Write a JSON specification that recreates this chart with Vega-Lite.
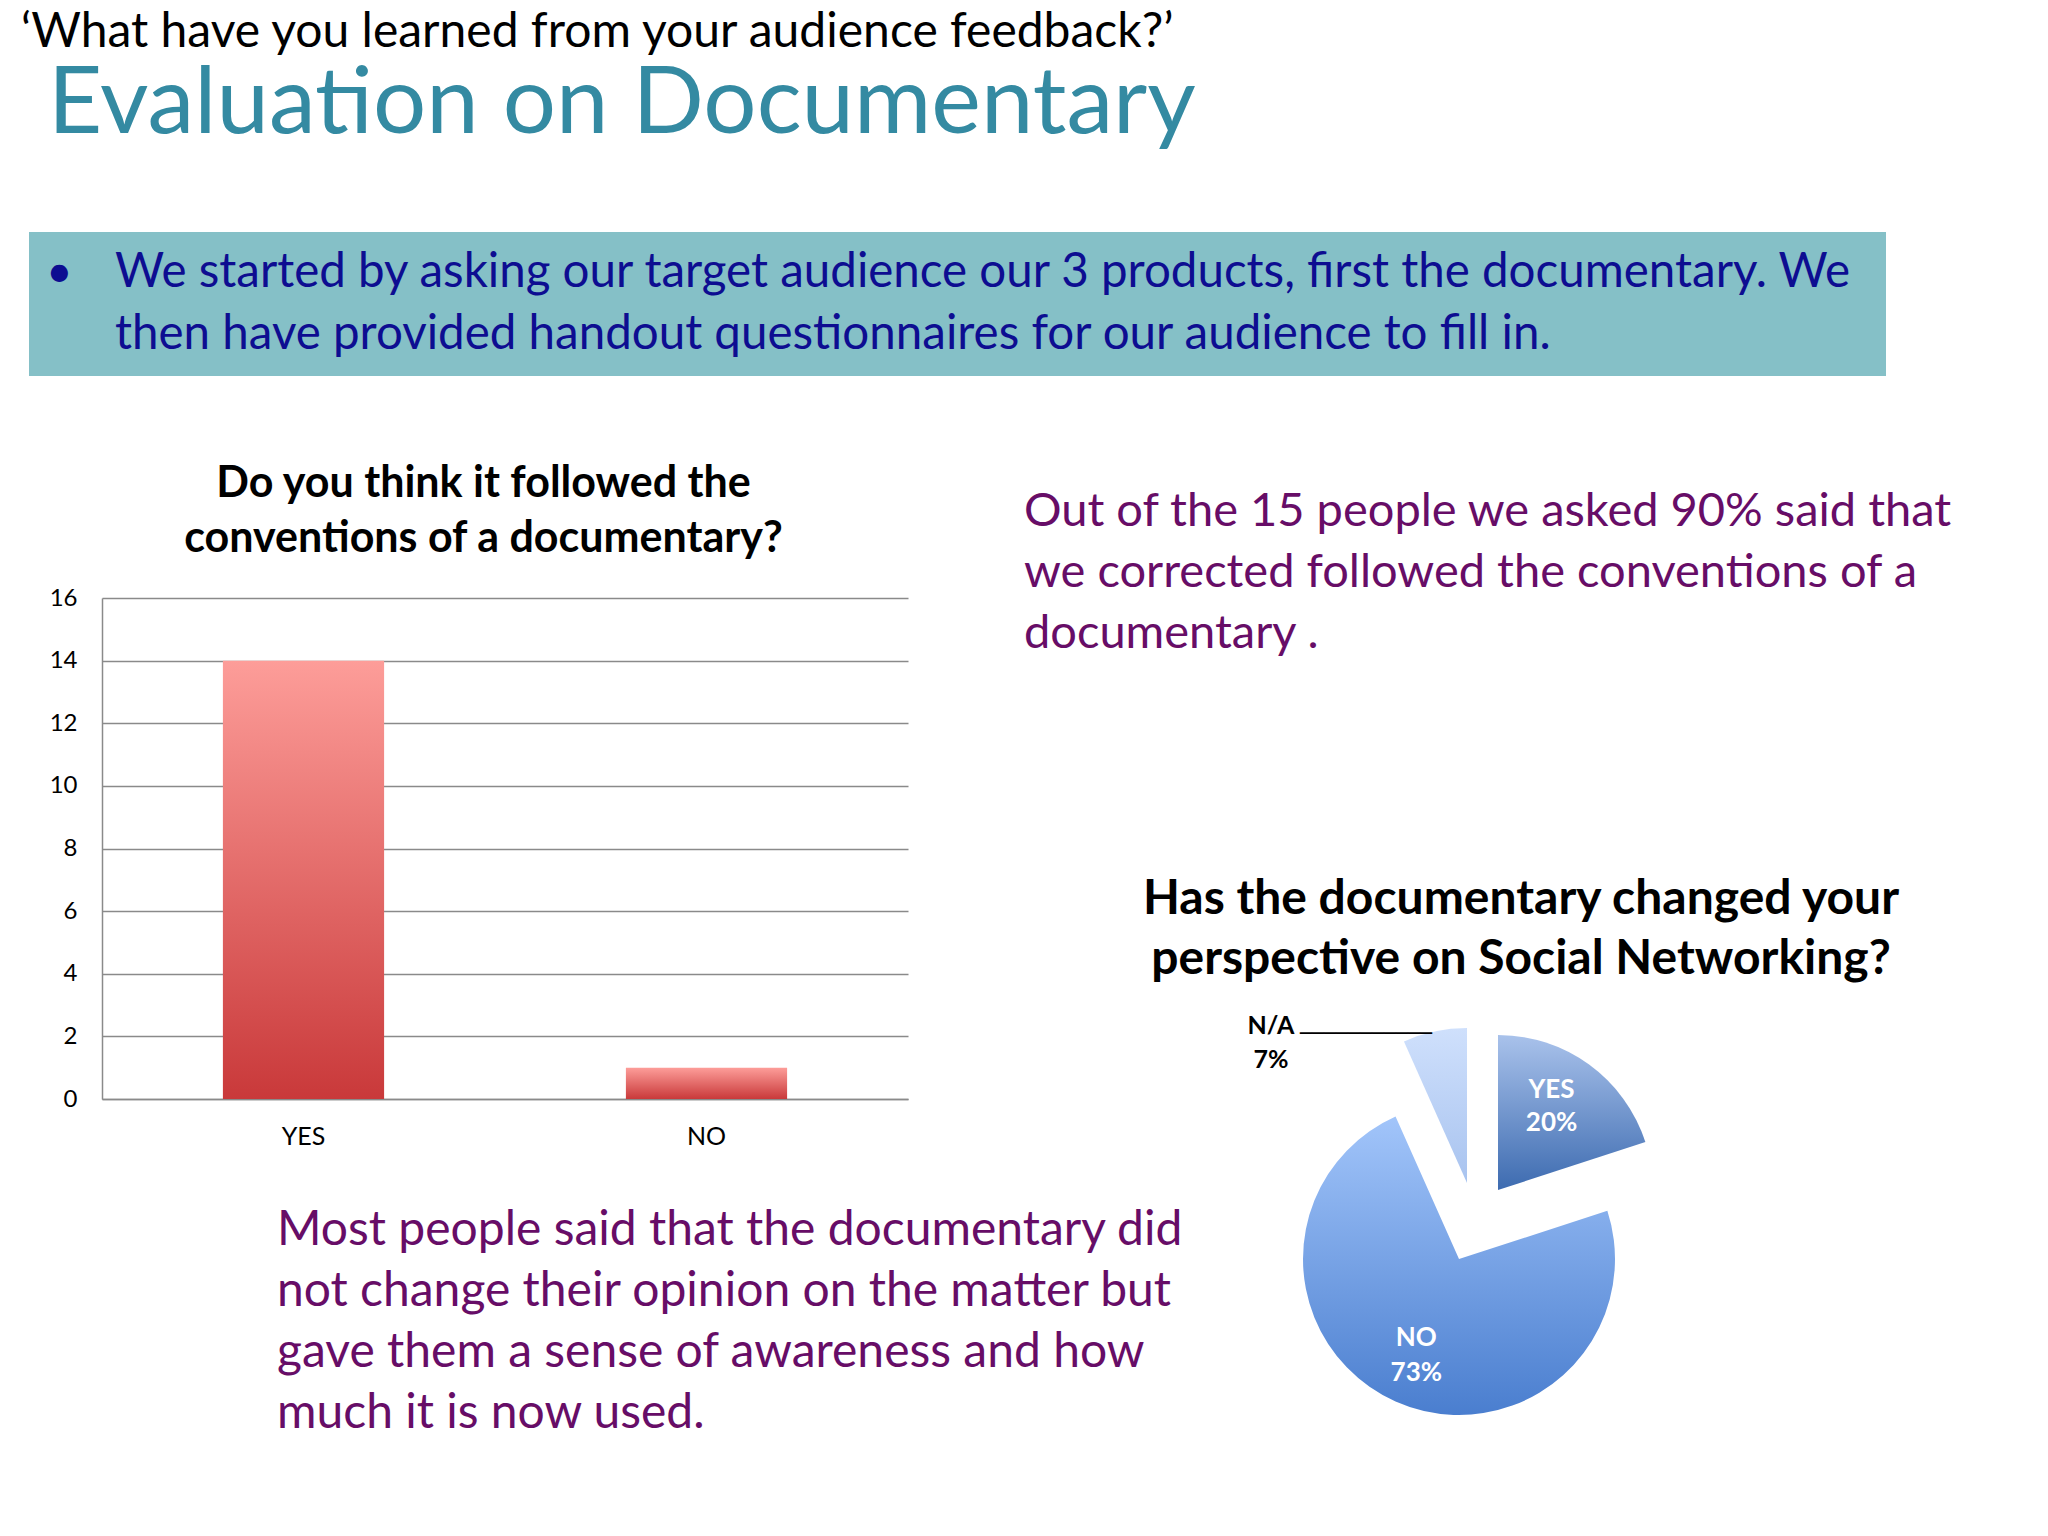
{
  "$schema": "https://vega.github.io/schema/vega-lite/v6.json",
  "background": "#ffffff",
  "padding": {"left": 21, "top": 9, "right": 0, "bottom": 0},
  "config": {"font": "Lato", "view": {"stroke": null}},
  "title": {
    "text": "‘What have you learned from your audience feedback?’",
    "anchor": "start", "dx": -8, "offset": 1,
    "fontSize": 48, "fontWeight": "normal", "color": "#000000"
  },
  "columns": 1,
  "align": "none",
  "spacing": 87,
  "concat": [
    {
      "width": 1857,
      "height": 144,
      "view": {"fill": "#85c0c7", "stroke": null},
      "title": {
        "text": "Evaluation on Documentary",
        "anchor": "start", "frame": "group", "dx": 19, "offset": 79,
        "fontSize": 94, "fontWeight": "normal", "color": "#348aa2"
      },
      "data": {"values": [
        {"lines": ["We started by asking our target audience our 3 products, first the documentary. We", "then have provided handout questionnaires for our audience to fill in."]}
      ]},
      "layer": [
        {
          "mark": {"type": "text", "text": "•", "align": "left", "baseline": "middle", "fontSize": 46, "color": "#0d0d91", "dx": 17, "dy": -31},
          "encoding": {"x": {"datum": 0, "type": "quantitative", "scale": {"domain": [0, 1]}, "axis": null}}
        },
        {
          "mark": {"type": "text", "align": "left", "baseline": "middle", "fontSize": 47.5, "color": "#0d0d91", "dx": 86, "dy": -31, "lineHeight": 62},
          "encoding": {
            "x": {"datum": 0, "type": "quantitative", "scale": {"domain": [0, 1]}, "axis": null},
            "text": {"field": "lines"}
          }
        }
      ]
    },
    {
      "bounds": "flush",
      "spacing": 20,
      "hconcat": [
        {
          "width": 879,
          "height": 501,
          "title": {
            "text": ["Do you think it followed the", "conventions of a documentary?"],
            "anchor": "middle", "frame": "group", "dx": 15, "offset": 25,
            "fontSize": 43, "fontWeight": "bold", "color": "#000000", "lineHeight": 55
          },
          "layer": [
            {
              "data": {"values": [
                {"answer": "YES", "count": 14},
                {"answer": "NO", "count": 1}
              ]},
              "mark": {
                "type": "bar",
                "color": {"gradient": "linear", "x1": 0, "y1": 0, "x2": 0, "y2": 1,
                  "stops": [{"offset": 0, "color": "#fd9d99"}, {"offset": 1, "color": "#c9393a"}]}
              },
              "encoding": {
                "x": {
                  "field": "answer", "type": "nominal", "sort": ["YES", "NO"],
                  "scale": {"range": [73, 879], "paddingInner": 0.6, "paddingOuter": 0.3},
                  "axis": {"title": null, "labelAngle": 0, "labelFontSize": 25, "labelColor": "#000000", "ticks": false, "domainColor": "#8a8a8a", "domainWidth": 1.5, "labelPadding": 25, "grid": false}
                },
                "y": {
                  "field": "count", "type": "quantitative",
                  "scale": {"domain": [0, 16], "nice": false},
                  "axis": {"title": null, "offset": -73, "values": [0, 2, 4, 6, 8, 10, 12, 14, 16], "grid": true, "gridColor": "#8a8a8a", "gridWidth": 1.4, "domainColor": "#8a8a8a", "domainWidth": 1.5, "ticks": false, "labelPadding": 25, "labelFontSize": 24, "labelColor": "#000000"}
                }
              }
            },
            {
              "data": {"values": [
                {"lines": ["Most people said that the documentary did", "not change their opinion on the matter but", "gave them a sense of awareness and how", "much it is now used."]}
              ]},
              "mark": {"type": "text", "align": "left", "baseline": "alphabetic", "dx": -191.5, "dy": 396, "fontSize": 48, "color": "#670d67", "lineHeight": 61.3},
              "encoding": {"text": {"field": "lines"}}
            }
          ]
        },
        {
          "width": 1094,
          "height": 820,
          "data": {"values": [
            {"answer": "YES", "count": 3, "order": 1, "label": ["YES", "20%"]},
            {"answer": "NO", "count": 11, "order": 2, "label": ["NO", "73%"]},
            {"answer": "N/A", "count": 1, "order": 3, "label": ["N/A", "7%"]}
          ]},
          "layer": [
            {
              "mark": {"type": "arc", "radius": 155, "xOffset": 23, "yOffset": 182,
                "color": {"gradient": "linear", "x1": 0, "y1": 0, "x2": 0, "y2": 1,
                  "stops": [{"offset": 0, "color": "#a9c2eb"}, {"offset": 1, "color": "#3d6bb0"}]}},
              "encoding": {
                "theta": {"field": "count", "type": "quantitative", "stack": true},
                "order": {"field": "order", "type": "quantitative"},
                "opacity": {"condition": {"test": "datum.answer === 'YES'", "value": 1}, "value": 0}
              }
            },
            {
              "mark": {"type": "arc", "radius": 156, "xOffset": -16, "yOffset": 251,
                "color": {"gradient": "linear", "x1": 0, "y1": 0, "x2": 0, "y2": 1,
                  "stops": [{"offset": 0, "color": "#a2c5fa"}, {"offset": 1, "color": "#4a7ecf"}]}},
              "encoding": {
                "theta": {"field": "count", "type": "quantitative", "stack": true},
                "order": {"field": "order", "type": "quantitative"},
                "opacity": {"condition": {"test": "datum.answer === 'NO'", "value": 1}, "value": 0}
              }
            },
            {
              "mark": {"type": "arc", "radius": 155, "xOffset": -8, "yOffset": 175,
                "color": {"gradient": "linear", "x1": 0, "y1": 0, "x2": 0, "y2": 1,
                  "stops": [{"offset": 0, "color": "#cfe0fc"}, {"offset": 1, "color": "#a8c3ef"}]}},
              "encoding": {
                "theta": {"field": "count", "type": "quantitative", "stack": true},
                "order": {"field": "order", "type": "quantitative"},
                "opacity": {"condition": {"test": "datum.answer === 'N/A'", "value": 1}, "value": 0}
              }
            },
            {
              "mark": {"type": "text", "radius": 103, "xOffset": 23, "yOffset": 182, "dx": -7, "dy": -17, "align": "center", "baseline": "middle", "fontSize": 26, "fontWeight": "bold", "color": "#ffffff", "lineHeight": 33},
              "encoding": {
                "theta": {"field": "count", "type": "quantitative", "stack": true},
                "order": {"field": "order", "type": "quantitative"},
                "text": {"field": "label"},
                "opacity": {"condition": {"test": "datum.answer === 'YES'", "value": 1}, "value": 0}
              }
            },
            {
              "mark": {"type": "text", "radius": 105, "xOffset": -16, "yOffset": 251, "dy": -17, "align": "center", "baseline": "middle", "fontSize": 26, "fontWeight": "bold", "color": "#ffffff", "lineHeight": 35},
              "encoding": {
                "theta": {"field": "count", "type": "quantitative", "stack": true},
                "order": {"field": "order", "type": "quantitative"},
                "text": {"field": "label"},
                "opacity": {"condition": {"test": "datum.answer === 'NO'", "value": 1}, "value": 0}
              }
            },
            {
              "transform": [{"filter": "datum.answer === 'N/A'"}],
              "mark": {"type": "text", "align": "center", "baseline": "alphabetic", "dx": -204, "dy": 26, "fontSize": 25, "fontWeight": "bold", "color": "#000000", "lineHeight": 34},
              "encoding": {"text": {"field": "label"}}
            },
            {
              "transform": [{"filter": "datum.answer === 'N/A'"}],
              "mark": {"type": "text", "text": "___________", "font": "DejaVu Sans", "align": "left", "baseline": "alphabetic", "dx": -175, "dy": 20, "fontSize": 24, "color": "#000000"},
              "encoding": {}
            },
            {
              "data": {"values": [
                {"lines": ["Out of the 15 people we asked 90% said that", "we corrected followed the conventions of a", "documentary ."]}
              ]},
              "mark": {"type": "text", "align": "left", "baseline": "alphabetic", "dx": -451, "dy": -482, "fontSize": 47, "color": "#670d67", "lineHeight": 61},
              "encoding": {"text": {"field": "lines"}}
            },
            {
              "data": {"values": [
                {"lines": ["Has the documentary changed your", "perspective on Social Networking?"]}
              ]},
              "mark": {"type": "text", "align": "center", "baseline": "alphabetic", "dx": 46, "dy": -94, "fontSize": 48, "fontWeight": "bold", "color": "#000000", "lineHeight": 60},
              "encoding": {"text": {"field": "lines"}}
            }
          ]
        }
      ]
    }
  ]
}
